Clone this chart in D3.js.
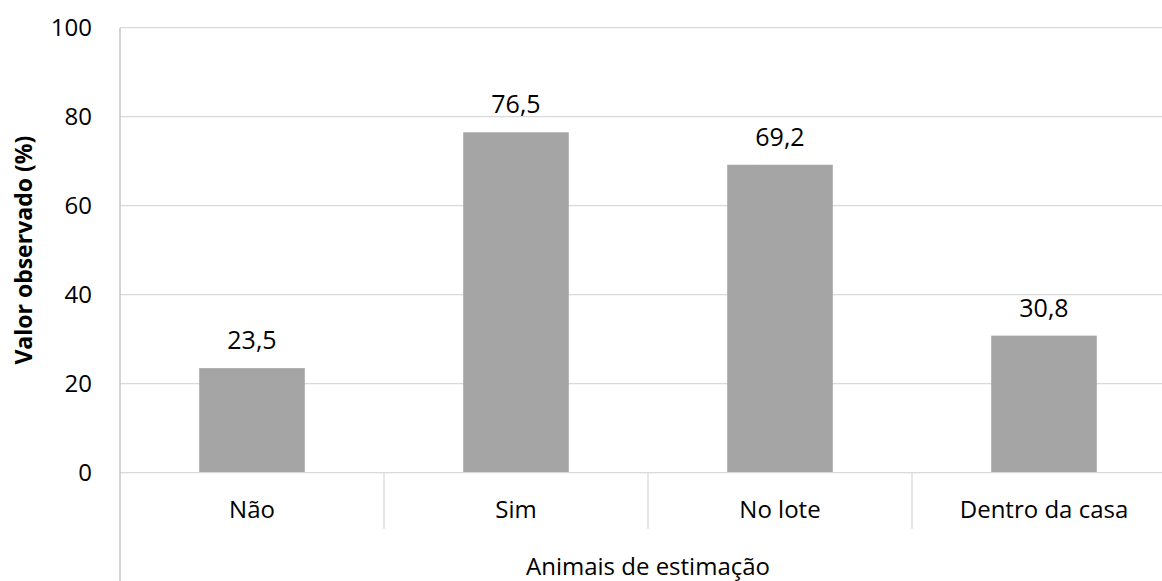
<!DOCTYPE html>
<html>
<head>
  <style>
    body { margin: 0; background: #fff; }
    svg { display: block; font-family: "Open Sans", "Liberation Sans", sans-serif; }
  </style>
</head>
<body>
  <script src="https://d3js.org/d3.v7.min.js"></script>
  <script>
    // data
    const categories = ["Não", "Sim", "No lote", "Dentro da casa"];
    const values = [23.5, 76.5, 69.2, 30.8];
    const yTicks = [0, 20, 40, 60, 80, 100];
    const yTitle = "Valor observado (%)";
    const xTitle = "Animais de estimação";

    const w = 1162, h = 581;
    const plotLeft = 120, plotRight = 1176, plotTop = 27.7, plotBottom = 472.7;

    const svg = d3.select("body").append("svg")
      .attr("width", w)
      .attr("height", h);

    const x = d3.scaleBand()
      .domain(categories)
      .range([plotLeft, plotRight])
      .paddingInner(0.6)
      .paddingOuter(0.3);

    // a second band scale without padding for the category separators
    const xb = d3.scaleBand().domain(categories).range([plotLeft, plotRight]);

    const y = d3.scaleLinear().domain([0, 100]).range([plotBottom, plotTop]);

    // gridlines
    svg.append("g")
      .selectAll("line")
      .data(yTicks.filter(d => d > 0))
      .join("line")
      .attr("x1", plotLeft).attr("x2", plotRight)
      .attr("y1", d => y(d)).attr("y2", d => y(d))
      .attr("stroke", "#d9d9d9").attr("stroke-width", 1.3);

    // y tick labels
    svg.append("g")
      .selectAll("text")
      .data(yTicks)
      .join("text")
      .attr("x", 92)
      .attr("y", d => y(d))
      .attr("dy", "0.36em")
      .attr("text-anchor", "end")
      .attr("font-size", 24)
      .attr("fill", "#000")
      .text(d => d);

    // bars
    svg.append("g")
      .selectAll("rect")
      .data(values)
      .join("rect")
      .attr("x", (d, i) => x(categories[i]))
      .attr("width", x.bandwidth())
      .attr("y", d => y(d))
      .attr("height", d => y(0) - y(d))
      .attr("fill", "#a5a5a5");

    // value labels
    svg.append("g")
      .selectAll("text")
      .data(values)
      .join("text")
      .attr("x", (d, i) => x(categories[i]) + x.bandwidth() / 2)
      .attr("y", d => y(d) - 19)
      .attr("text-anchor", "middle")
      .attr("font-size", 25)
      .attr("fill", "#000")
      .text(d => d3.format(".1f")(d).replace(".", ","));

    // axis lines
    svg.append("line")
      .attr("x1", plotLeft).attr("x2", plotRight)
      .attr("y1", plotBottom).attr("y2", plotBottom)
      .attr("stroke", "#d9d9d9").attr("stroke-width", 1.3);
    svg.append("line")
      .attr("x1", plotLeft).attr("x2", plotLeft)
      .attr("y1", plotTop).attr("y2", h)
      .attr("stroke", "#bfbfbf").attr("stroke-width", 1.3);

    // category separators
    svg.append("g")
      .selectAll("line")
      .data(categories.slice(1))
      .join("line")
      .attr("x1", d => xb(d)).attr("x2", d => xb(d))
      .attr("y1", plotBottom).attr("y2", 529)
      .attr("stroke", "#d9d9d9").attr("stroke-width", 1.3);

    // category labels
    svg.append("g")
      .selectAll("text")
      .data(categories)
      .join("text")
      .attr("x", d => xb(d) + xb.bandwidth() / 2)
      .attr("y", 518)
      .attr("text-anchor", "middle")
      .attr("font-size", 24)
      .attr("fill", "#000")
      .text(d => d);

    // axis titles
    svg.append("text")
      .attr("x", (plotLeft + plotRight) / 2)
      .attr("y", 575)
      .attr("text-anchor", "middle")
      .attr("font-size", 24)
      .text(xTitle);

    svg.append("text")
      .attr("transform", "translate(32," + ((plotTop + plotBottom) / 2) + ") rotate(-90)")
      .attr("text-anchor", "middle")
      .attr("font-size", 23)
      .attr("font-weight", "bold")
      .text(yTitle);
  </script>
</body>
</html>
